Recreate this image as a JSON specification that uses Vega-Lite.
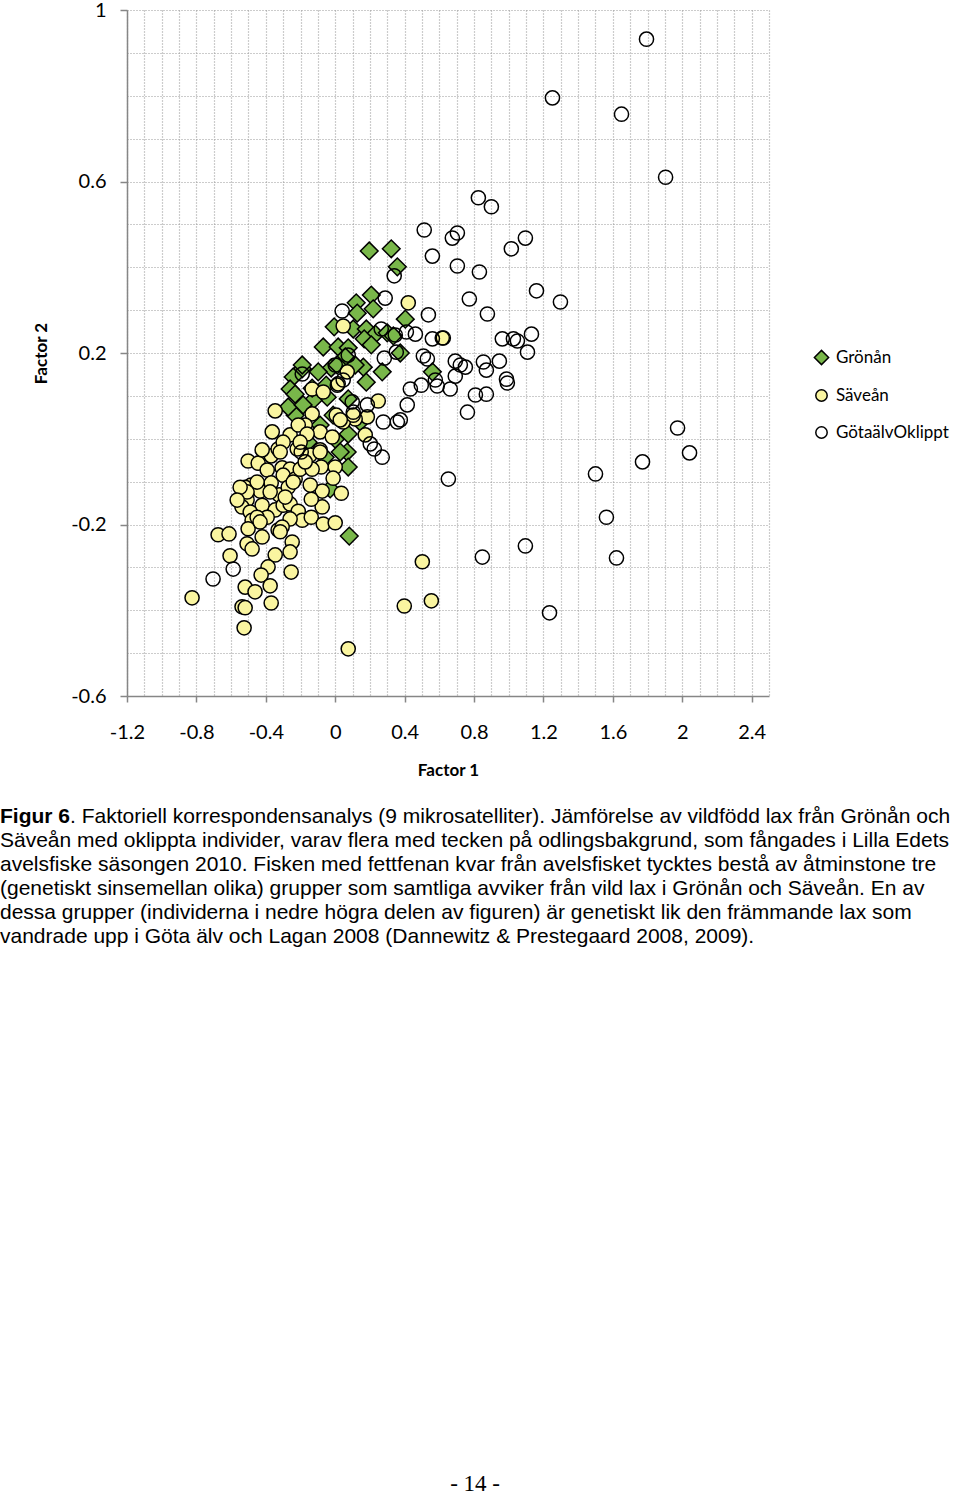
{
  "$schema": "https://vega.github.io/schema/vega-lite/v6.json",
  "padding": 0,
  "background": "white",
  "title": {"text": "- 14 -", "orient": "bottom", "anchor": "middle", "offset": 526, "font": "Liberation Serif", "fontSize": 23, "fontWeight": "normal", "color": "black"},
  "config": {
    "view": {"stroke": null},
    "axis": {
      "domainColor": "#868686", "domainWidth": 1.5, "tickColor": "#868686", "tickWidth": 1.5,
      "gridColor": "#9a9a9a", "gridDash": [1, 2], "gridWidth": 1.2,
      "labelFont": "Lato", "labelFontSize": 20, "labelColor": "black", "labelFlush": false, "labelOverlap": false, "labelBound": false,
      "titleFont": "Lato", "titleFontSize": 17, "titleFontWeight": "bold", "titleColor": "black"
    },
    "legend": {"symbolStrokeColor": "black", "symbolStrokeWidth": 1.5}
  },
  "vconcat": [
    {
      "width": 642,
      "height": 686,
      "title": {
        "text": "Figur 6",
        "subtitle": [
          "\u200b\u2007\u2007\u2007\u2007\u2007\u2007. Faktoriell korrespondensanalys (9 mikrosatelliter). Jämförelse av vildfödd lax från Grönån och",
          "Säveån med oklippta individer, varav flera med tecken på odlingsbakgrund, som fångades i Lilla Edets",
          "avelsfiske säsongen 2010. Fisken med fettfenan kvar från avelsfisket tycktes bestå av åtminstone tre",
          "(genetiskt sinsemellan olika) grupper som samtliga avviker från vild lax i Grönån och Säveån. En av",
          "dessa grupper (individerna i nedre högra delen av figuren) är genetiskt lik den främmande lax som",
          "vandrade upp i Göta älv och Lagan 2008 (Dannewitz & Prestegaard 2008, 2009)."
        ],
        "orient": "bottom", "anchor": "start", "frame": "group", "dx": -127, "offset": 28,
        "font": "Liberation Sans", "fontSize": 21, "fontWeight": "bold", "color": "black",
        "subtitleFont": "Liberation Sans", "subtitleFontSize": 21, "subtitleColor": "black", "subtitleLineHeight": 24, "subtitlePadding": -21
      },
      "data": {"values": [
        {"group":"Grönån","factor1":0.196,"factor2":0.438},{"group":"Grönån","factor1":0.323,"factor2":0.443},{"group":"Grönån","factor1":0.358,"factor2":0.401},{"group":"Grönån","factor1":0.208,"factor2":0.335},{"group":"Grönån","factor1":0.121,"factor2":0.317},{"group":"Grönån","factor1":0.219,"factor2":0.303},{"group":"Grönån","factor1":0.127,"factor2":0.293},{"group":"Grönån","factor1":0.404,"factor2":0.279},{"group":"Grönån","factor1":-0.006,"factor2":0.261},{"group":"Grönån","factor1":0.104,"factor2":0.256},{"group":"Grönån","factor1":0.179,"factor2":0.256},{"group":"Grönån","factor1":0.231,"factor2":0.244},{"group":"Grönån","factor1":0.300,"factor2":0.247},{"group":"Grönån","factor1":0.335,"factor2":0.240},{"group":"Grönån","factor1":0.167,"factor2":0.233},{"group":"Grönån","factor1":0.208,"factor2":0.219},{"group":"Grönån","factor1":-0.069,"factor2":0.214},{"group":"Grönån","factor1":0.017,"factor2":0.214},{"group":"Grönån","factor1":0.075,"factor2":0.212},{"group":"Grönån","factor1":0.375,"factor2":0.200},{"group":"Grönån","factor1":0.162,"factor2":0.167},{"group":"Grönån","factor1":0.271,"factor2":0.156},{"group":"Grönån","factor1":0.058,"factor2":0.191},{"group":"Grönån","factor1":-0.023,"factor2":0.165},{"group":"Grönån","factor1":-0.098,"factor2":0.156},{"group":"Grönån","factor1":-0.190,"factor2":0.163},{"group":"Grönån","factor1":-0.242,"factor2":0.144},{"group":"Grönån","factor1":-0.260,"factor2":0.116},{"group":"Grönån","factor1":0.179,"factor2":0.132},{"group":"Grönån","factor1":0.012,"factor2":0.172},{"group":"Grönån","factor1":0.115,"factor2":0.172},{"group":"Grönån","factor1":0.075,"factor2":0.093},{"group":"Grönån","factor1":0.075,"factor2":0.011},{"group":"Grönån","factor1":0.069,"factor2":-0.031},{"group":"Grönån","factor1":0.075,"factor2":-0.066},{"group":"Grönån","factor1":0.081,"factor2":-0.227},{"group":"Grönån","factor1":-0.231,"factor2":0.055},{"group":"Grönån","factor1":-0.271,"factor2":0.074},{"group":"Grönån","factor1":-0.087,"factor2":0.032},{"group":"Grönån","factor1":-0.012,"factor2":0.055},{"group":"Grönån","factor1":-0.046,"factor2":0.097},{"group":"Grönån","factor1":-0.127,"factor2":0.090},{"group":"Grönån","factor1":-0.185,"factor2":0.079},{"group":"Grönån","factor1":0.000,"factor2":-0.001},{"group":"Grönån","factor1":0.029,"factor2":-0.031},{"group":"Grönån","factor1":-0.029,"factor2":-0.117},{"group":"Grönån","factor1":-0.231,"factor2":0.104},{"group":"Grönån","factor1":0.560,"factor2":0.156},{"group":"Grönån","factor1":-0.156,"factor2":-0.008},{"group":"Grönån","factor1":-0.058,"factor2":-0.043},{"group":"Grönån","factor1":-0.052,"factor2":0.125},{"group":"Grönån","factor1":-0.133,"factor2":0.118},{"group":"Grönån","factor1":0.144,"factor2":0.039},{"group":"Grönån","factor1":-0.190,"factor2":0.172},
        {"group":"Säveån","factor1":-0.502,"factor2":-0.052},{"group":"Säveån","factor1":-0.444,"factor2":-0.057},{"group":"Säveån","factor1":-0.369,"factor2":-0.040},{"group":"Säveån","factor1":-0.329,"factor2":-0.024},{"group":"Säveån","factor1":-0.392,"factor2":-0.073},{"group":"Säveån","factor1":-0.306,"factor2":-0.068},{"group":"Säveån","factor1":-0.260,"factor2":-0.071},{"group":"Säveån","factor1":-0.300,"factor2":-0.085},{"group":"Säveån","factor1":-0.485,"factor2":-0.108},{"group":"Säveån","factor1":-0.519,"factor2":-0.113},{"group":"Säveån","factor1":-0.433,"factor2":-0.122},{"group":"Säveån","factor1":-0.369,"factor2":-0.103},{"group":"Säveån","factor1":-0.323,"factor2":-0.131},{"group":"Säveån","factor1":-0.271,"factor2":-0.113},{"group":"Säveån","factor1":-0.231,"factor2":-0.094},{"group":"Säveån","factor1":-0.508,"factor2":-0.143},{"group":"Säveån","factor1":-0.537,"factor2":-0.159},{"group":"Säveån","factor1":-0.421,"factor2":-0.155},{"group":"Säveån","factor1":-0.490,"factor2":-0.171},{"group":"Säveån","factor1":-0.346,"factor2":-0.166},{"group":"Säveån","factor1":-0.300,"factor2":-0.155},{"group":"Säveån","factor1":-0.260,"factor2":-0.152},{"group":"Säveån","factor1":-0.213,"factor2":-0.169},{"group":"Säveån","factor1":-0.392,"factor2":-0.183},{"group":"Säveån","factor1":-0.479,"factor2":-0.190},{"group":"Säveån","factor1":-0.190,"factor2":-0.190},{"group":"Säveån","factor1":-0.260,"factor2":-0.187},{"group":"Säveån","factor1":-0.502,"factor2":-0.210},{"group":"Säveån","factor1":-0.329,"factor2":-0.213},{"group":"Säveån","factor1":-0.306,"factor2":-0.206},{"group":"Säveån","factor1":-0.421,"factor2":-0.229},{"group":"Säveån","factor1":-0.508,"factor2":-0.245},{"group":"Säveån","factor1":-0.675,"factor2":-0.224},{"group":"Säveån","factor1":-0.612,"factor2":-0.222},{"group":"Säveån","factor1":-0.248,"factor2":-0.241},{"group":"Säveån","factor1":-0.260,"factor2":-0.264},{"group":"Säveån","factor1":-0.346,"factor2":-0.271},{"group":"Säveån","factor1":-0.606,"factor2":-0.273},{"group":"Säveån","factor1":-0.479,"factor2":-0.257},{"group":"Säveån","factor1":-0.387,"factor2":-0.299},{"group":"Säveån","factor1":-0.427,"factor2":-0.318},{"group":"Säveån","factor1":-0.254,"factor2":-0.311},{"group":"Säveån","factor1":-0.375,"factor2":-0.343},{"group":"Säveån","factor1":-0.519,"factor2":-0.346},{"group":"Säveån","factor1":-0.462,"factor2":-0.357},{"group":"Säveån","factor1":-0.369,"factor2":-0.383},{"group":"Säveån","factor1":-0.537,"factor2":-0.392},{"group":"Säveån","factor1":-0.519,"factor2":-0.394},{"group":"Säveån","factor1":-0.525,"factor2":-0.441},{"group":"Säveån","factor1":-0.825,"factor2":-0.371},{"group":"Säveån","factor1":-0.317,"factor2":-0.217},{"group":"Säveån","factor1":-0.450,"factor2":-0.183},{"group":"Säveån","factor1":-0.138,"factor2":-0.183},{"group":"Säveån","factor1":-0.075,"factor2":-0.159},{"group":"Säveån","factor1":-0.069,"factor2":-0.199},{"group":"Säveån","factor1":0.000,"factor2":-0.196},{"group":"Säveån","factor1":-0.087,"factor2":-0.026},{"group":"Säveån","factor1":-0.144,"factor2":-0.038},{"group":"Säveån","factor1":0.000,"factor2":-0.066},{"group":"Säveån","factor1":-0.081,"factor2":-0.066},{"group":"Säveån","factor1":-0.012,"factor2":-0.092},{"group":"Säveån","factor1":0.035,"factor2":-0.127},{"group":"Säveån","factor1":-0.075,"factor2":-0.122},{"group":"Säveån","factor1":-0.138,"factor2":-0.141},{"group":"Säveån","factor1":0.502,"factor2":-0.287},{"group":"Säveån","factor1":0.398,"factor2":-0.390},{"group":"Säveån","factor1":0.554,"factor2":-0.378},{"group":"Säveån","factor1":0.075,"factor2":-0.490},{"group":"Säveån","factor1":0.421,"factor2":0.317},{"group":"Säveån","factor1":0.046,"factor2":0.263},{"group":"Säveån","factor1":0.069,"factor2":0.156},{"group":"Säveån","factor1":0.017,"factor2":0.128},{"group":"Säveån","factor1":-0.133,"factor2":0.116},{"group":"Säveån","factor1":-0.069,"factor2":0.109},{"group":"Säveån","factor1":0.248,"factor2":0.088},{"group":"Säveån","factor1":0.185,"factor2":0.051},{"group":"Säveån","factor1":0.115,"factor2":0.046},{"group":"Säveån","factor1":0.006,"factor2":0.055},{"group":"Säveån","factor1":0.046,"factor2":0.039},{"group":"Säveån","factor1":-0.087,"factor2":0.016},{"group":"Säveån","factor1":-0.017,"factor2":0.004},{"group":"Säveån","factor1":0.173,"factor2":0.009},{"group":"Säveån","factor1":-0.133,"factor2":0.058},{"group":"Säveån","factor1":-0.173,"factor2":0.032},{"group":"Säveån","factor1":-0.346,"factor2":0.065},{"group":"Säveån","factor1":-0.363,"factor2":0.016},{"group":"Säveån","factor1":-0.260,"factor2":0.009},{"group":"Säveån","factor1":-0.213,"factor2":0.032},{"group":"Säveån","factor1":-0.300,"factor2":-0.008},{"group":"Säveån","factor1":0.104,"factor2":0.055},{"group":"Säveån","factor1":0.029,"factor2":0.044},{"group":"Säveån","factor1":-0.162,"factor2":0.011},{"group":"Säveån","factor1":-0.317,"factor2":-0.031},{"group":"Säveån","factor1":-0.219,"factor2":-0.024},{"group":"Säveån","factor1":-0.087,"factor2":-0.031},{"group":"Säveån","factor1":-0.144,"factor2":-0.108},{"group":"Säveån","factor1":-0.242,"factor2":-0.101},{"group":"Säveån","factor1":-0.450,"factor2":-0.101},{"group":"Säveån","factor1":-0.508,"factor2":-0.124},{"group":"Säveån","factor1":-0.375,"factor2":-0.124},{"group":"Säveån","factor1":-0.202,"factor2":-0.071},{"group":"Säveån","factor1":-0.133,"factor2":-0.071},{"group":"Säveån","factor1":0.617,"factor2":0.235},{"group":"Säveån","factor1":-0.548,"factor2":-0.113},{"group":"Säveån","factor1":-0.565,"factor2":-0.143},{"group":"Säveån","factor1":-0.202,"factor2":-0.008},{"group":"Säveån","factor1":-0.173,"factor2":-0.054},{"group":"Säveån","factor1":-0.288,"factor2":-0.136},{"group":"Säveån","factor1":-0.433,"factor2":-0.194},{"group":"Säveån","factor1":-0.421,"factor2":-0.026},
        {"group":"GötaälvOklippt","factor1":1.794,"factor2":0.932},{"group":"GötaälvOklippt","factor1":1.252,"factor2":0.795},{"group":"GötaälvOklippt","factor1":1.650,"factor2":0.757},{"group":"GötaälvOklippt","factor1":1.904,"factor2":0.610},{"group":"GötaälvOklippt","factor1":0.825,"factor2":0.562},{"group":"GötaälvOklippt","factor1":0.900,"factor2":0.541},{"group":"GötaälvOklippt","factor1":0.513,"factor2":0.487},{"group":"GötaälvOklippt","factor1":0.704,"factor2":0.480},{"group":"GötaälvOklippt","factor1":0.675,"factor2":0.468},{"group":"GötaälvOklippt","factor1":1.096,"factor2":0.468},{"group":"GötaälvOklippt","factor1":1.015,"factor2":0.443},{"group":"GötaälvOklippt","factor1":0.560,"factor2":0.426},{"group":"GötaälvOklippt","factor1":0.704,"factor2":0.403},{"group":"GötaälvOklippt","factor1":0.831,"factor2":0.389},{"group":"GötaälvOklippt","factor1":0.340,"factor2":0.380},{"group":"GötaälvOklippt","factor1":1.160,"factor2":0.345},{"group":"GötaälvOklippt","factor1":0.288,"factor2":0.328},{"group":"GötaälvOklippt","factor1":0.773,"factor2":0.326},{"group":"GötaälvOklippt","factor1":1.298,"factor2":0.319},{"group":"GötaälvOklippt","factor1":0.040,"factor2":0.298},{"group":"GötaälvOklippt","factor1":0.877,"factor2":0.291},{"group":"GötaälvOklippt","factor1":0.537,"factor2":0.289},{"group":"GötaälvOklippt","factor1":0.265,"factor2":0.256},{"group":"GötaälvOklippt","factor1":0.462,"factor2":0.244},{"group":"GötaälvOklippt","factor1":0.410,"factor2":0.249},{"group":"GötaälvOklippt","factor1":0.560,"factor2":0.233},{"group":"GötaälvOklippt","factor1":0.623,"factor2":0.235},{"group":"GötaälvOklippt","factor1":0.963,"factor2":0.233},{"group":"GötaälvOklippt","factor1":1.027,"factor2":0.233},{"group":"GötaälvOklippt","factor1":1.050,"factor2":0.228},{"group":"GötaälvOklippt","factor1":1.131,"factor2":0.244},{"group":"GötaälvOklippt","factor1":1.108,"factor2":0.202},{"group":"GötaälvOklippt","factor1":0.508,"factor2":0.193},{"group":"GötaälvOklippt","factor1":0.531,"factor2":0.186},{"group":"GötaälvOklippt","factor1":0.692,"factor2":0.181},{"group":"GötaälvOklippt","factor1":0.721,"factor2":0.172},{"group":"GötaälvOklippt","factor1":0.750,"factor2":0.167},{"group":"GötaälvOklippt","factor1":0.854,"factor2":0.179},{"group":"GötaälvOklippt","factor1":0.946,"factor2":0.181},{"group":"GötaälvOklippt","factor1":0.871,"factor2":0.160},{"group":"GötaälvOklippt","factor1":0.692,"factor2":0.146},{"group":"GötaälvOklippt","factor1":0.577,"factor2":0.137},{"group":"GötaälvOklippt","factor1":0.588,"factor2":0.123},{"group":"GötaälvOklippt","factor1":0.433,"factor2":0.116},{"group":"GötaälvOklippt","factor1":0.496,"factor2":0.125},{"group":"GötaälvOklippt","factor1":0.663,"factor2":0.116},{"group":"GötaälvOklippt","factor1":0.987,"factor2":0.139},{"group":"GötaälvOklippt","factor1":0.992,"factor2":0.130},{"group":"GötaälvOklippt","factor1":0.808,"factor2":0.102},{"group":"GötaälvOklippt","factor1":0.871,"factor2":0.104},{"group":"GötaälvOklippt","factor1":0.415,"factor2":0.079},{"group":"GötaälvOklippt","factor1":0.375,"factor2":0.044},{"group":"GötaälvOklippt","factor1":0.762,"factor2":0.062},{"group":"GötaälvOklippt","factor1":0.277,"factor2":0.039},{"group":"GötaälvOklippt","factor1":0.652,"factor2":-0.094},{"group":"GötaälvOklippt","factor1":1.500,"factor2":-0.082},{"group":"GötaälvOklippt","factor1":1.771,"factor2":-0.054},{"group":"GötaälvOklippt","factor1":1.973,"factor2":0.025},{"group":"GötaälvOklippt","factor1":2.042,"factor2":-0.033},{"group":"GötaälvOklippt","factor1":0.225,"factor2":-0.024},{"group":"GötaälvOklippt","factor1":0.271,"factor2":-0.043},{"group":"GötaälvOklippt","factor1":1.563,"factor2":-0.183},{"group":"GötaälvOklippt","factor1":1.096,"factor2":-0.250},{"group":"GötaälvOklippt","factor1":0.848,"factor2":-0.276},{"group":"GötaälvOklippt","factor1":1.621,"factor2":-0.278},{"group":"GötaälvOklippt","factor1":1.235,"factor2":-0.406},{"group":"GötaälvOklippt","factor1":-0.704,"factor2":-0.327},{"group":"GötaälvOklippt","factor1":-0.588,"factor2":-0.304},{"group":"GötaälvOklippt","factor1":0.075,"factor2":0.195},{"group":"GötaälvOklippt","factor1":0.283,"factor2":0.188},{"group":"GötaälvOklippt","factor1":0.352,"factor2":0.202},{"group":"GötaälvOklippt","factor1":0.000,"factor2":0.172},{"group":"GötaälvOklippt","factor1":0.012,"factor2":0.125},{"group":"GötaälvOklippt","factor1":0.046,"factor2":0.137},{"group":"GötaälvOklippt","factor1":0.098,"factor2":0.086},{"group":"GötaälvOklippt","factor1":0.185,"factor2":0.079},{"group":"GötaälvOklippt","factor1":-0.190,"factor2":0.151},{"group":"GötaälvOklippt","factor1":0.104,"factor2":0.062},{"group":"GötaälvOklippt","factor1":0.202,"factor2":-0.012},{"group":"GötaälvOklippt","factor1":-0.196,"factor2":-0.031},{"group":"GötaälvOklippt","factor1":0.346,"factor2":0.242},{"group":"GötaälvOklippt","factor1":0.358,"factor2":0.039}
      ]},
      "mark": {"type": "point", "filled": true, "size": 200, "strokeWidth": 1.5, "opacity": 1},
      "encoding": {
        "x": {
          "field": "factor1", "type": "quantitative", "title": "Factor 1",
          "scale": {"domain": [-1.2, 2.5], "nice": false, "zero": false},
          "axis": {
            "values": [-1.2,-1.1,-1,-0.9,-0.8,-0.7,-0.6,-0.5,-0.4,-0.3,-0.2,-0.1,0,0.1,0.2,0.3,0.4,0.5,0.6,0.7,0.8,0.9,1,1.1,1.2,1.3,1.4,1.5,1.6,1.7,1.8,1.9,2,2.1,2.2,2.3,2.4,2.5],
            "labelExpr": "round((datum.value + 1.2) * 10) % 4 == 0 ? '' + datum.value : ''",
            "tickOpacity": {"condition": {"test": "round((datum.value + 1.2) * 10) % 4 == 0", "value": 1}, "value": 0},
            "tickSize": 6, "labelPadding": 20, "titlePadding": 20
          }
        },
        "y": {
          "field": "factor2", "type": "quantitative", "title": "Factor 2",
          "scale": {"domain": [-0.6, 1], "nice": false, "zero": false},
          "axis": {
            "values": [-0.6,-0.5,-0.4,-0.3,-0.2,-0.1,0,0.1,0.2,0.3,0.4,0.5,0.6,0.7,0.8,0.9,1],
            "labelExpr": "round((datum.value + 0.6) * 10) % 4 == 0 ? '' + datum.value : ''",
            "tickOpacity": {"condition": {"test": "round((datum.value + 0.6) * 10) % 4 == 0", "value": 1}, "value": 0},
            "tickSize": 7, "labelPadding": 14, "titlePadding": 20
          }
        },
        "shape": {
          "field": "group", "type": "nominal",
          "scale": {"domain": ["Grönån", "Säveån", "GötaälvOklippt"], "range": ["M-1.25,0L0,-1.25L1.25,0L0,1.25Z", "circle", "circle"]},
          "legend": {"orient": "none", "legendX": 686, "legendY": 339, "title": null, "padding": 0, "rowPadding": 18, "labelOffset": 6, "symbolSize": 130, "symbolStrokeWidth": 1.5, "labelFont": "Lato", "labelFontSize": 17, "labelColor": "black"}
        },
        "fill": {
          "field": "group", "type": "nominal",
          "scale": {"domain": ["Grönån", "Säveån", "GötaälvOklippt"], "range": ["#79b74a", "#faf5a0", "transparent"]},
          "legend": {"orient": "none", "legendX": 686, "legendY": 339, "title": null, "padding": 0, "rowPadding": 18, "labelOffset": 6, "symbolSize": 130, "symbolStrokeWidth": 1.5, "labelFont": "Lato", "labelFontSize": 17, "labelColor": "black"}
        },
        "stroke": {
          "field": "group", "type": "nominal",
          "scale": {"domain": ["Grönån", "Säveån", "GötaälvOklippt"], "range": ["black", "black", "black"]},
          "legend": {"orient": "none", "legendX": 686, "legendY": 339, "title": null, "padding": 0, "rowPadding": 18, "labelOffset": 6, "symbolSize": 130, "symbolStrokeWidth": 1.5, "labelFont": "Lato", "labelFontSize": 17, "labelColor": "black"}
        }
      }
    }
  ]
}
